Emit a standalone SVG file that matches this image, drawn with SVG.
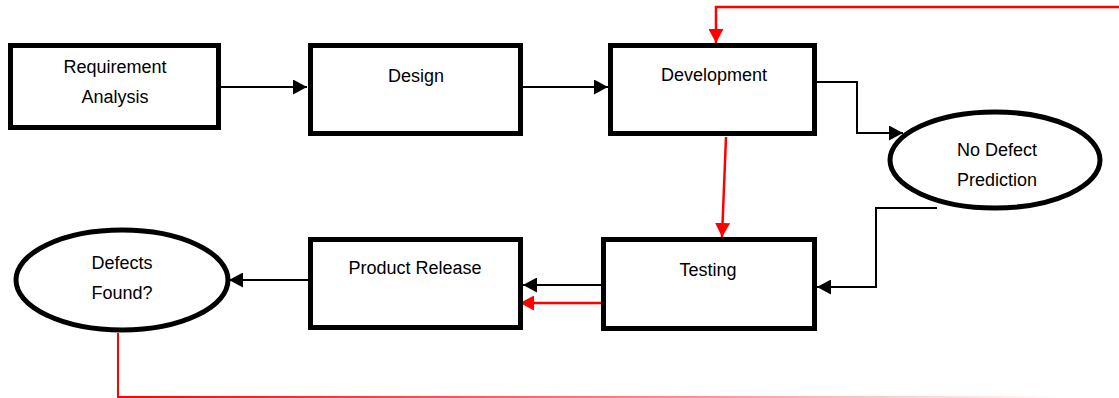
<svg xmlns="http://www.w3.org/2000/svg" width="1119" height="398" viewBox="0 0 1119 398">
<style>
.box{fill:#fff;stroke:#000;stroke-width:5}
.ell{fill:#fff;stroke:#000;stroke-width:5}
.lbl{font-family:"Liberation Sans",Arial,sans-serif;font-size:18px;fill:#000;text-anchor:middle;dominant-baseline:central}
.blk{fill:none;stroke:#000;stroke-width:2}
.red{fill:none;stroke:#ff0000;stroke-width:2.5}
</style>
<defs>
<marker id="ab" markerUnits="userSpaceOnUse" markerWidth="15" markerHeight="15" refX="14" refY="7.5" orient="auto">
<path d="M0,0 L14,7.5 L0,15 z" fill="#000"/>
</marker>
<marker id="ar" markerUnits="userSpaceOnUse" markerWidth="15" markerHeight="15" refX="14" refY="7.5" orient="auto">
<path d="M0,0 L14,7.5 L0,15 z" fill="#ff0000"/>
</marker>
<linearGradient id="fade" gradientUnits="userSpaceOnUse" x1="118" y1="0" x2="1060" y2="0">
<stop offset="0" stop-color="#ff0000"/>
<stop offset="0.6" stop-color="#ff0000" stop-opacity="0.45"/>
<stop offset="1" stop-color="#ff0000" stop-opacity="0"/>
</linearGradient>
</defs>
<g id="connectors">
<line class="blk" x1="221" y1="87" x2="307" y2="87" marker-end="url(#ab)"/>
<line class="blk" x1="523" y1="87" x2="608" y2="87" marker-end="url(#ab)"/>
<polyline class="blk" points="817,82 857,82 857,133 903,133" marker-end="url(#ab)"/>
<polyline class="blk" points="937,208 876,208 876,287 817,287" marker-end="url(#ab)"/>
<line class="blk" x1="601" y1="285" x2="523" y2="285" marker-end="url(#ab)"/>
<line class="red" x1="601" y1="303" x2="520" y2="303" marker-end="url(#ar)"/>
<line class="blk" x1="308" y1="280" x2="229" y2="280" marker-end="url(#ab)"/>
<line class="red" x1="726" y1="137" x2="722" y2="237" marker-end="url(#ar)"/>
<polyline class="red" points="1119,7 716,7 716,43" marker-end="url(#ar)"/>
<line stroke="#ff0000" stroke-width="2" x1="118" y1="333" x2="118" y2="397"/>
<line stroke="url(#fade)" stroke-width="2" x1="117" y1="397" x2="1060" y2="397"/>
</g>
<g id="n1"><rect class="box" x="10.5" y="45.5" width="208" height="82"/><text class="lbl" x="115" y="67">Requirement</text><text class="lbl" x="115" y="97">Analysis</text></g>
<g id="n2"><rect class="box" x="310.5" y="45.5" width="210" height="88"/><text class="lbl" x="416" y="76">Design</text></g>
<g id="n3"><rect class="box" x="610.5" y="45.5" width="204" height="88"/><text class="lbl" x="714" y="75">Development</text></g>
<g id="n4"><ellipse class="ell" cx="995" cy="160" rx="105" ry="48"/><text class="lbl" x="997" y="150">No Defect</text><text class="lbl" x="997" y="180">Prediction</text></g>
<g id="n5"><rect class="box" x="603.5" y="239.5" width="211" height="89"/><text class="lbl" x="708" y="270">Testing</text></g>
<g id="n6"><rect class="box" x="310.5" y="239.5" width="210" height="88"/><text class="lbl" x="415" y="268">Product Release</text></g>
<g id="n7"><ellipse class="ell" cx="122" cy="280" rx="106" ry="50"/><text class="lbl" x="122" y="263">Defects</text><text class="lbl" x="122" y="293">Found?</text></g>
</svg>
